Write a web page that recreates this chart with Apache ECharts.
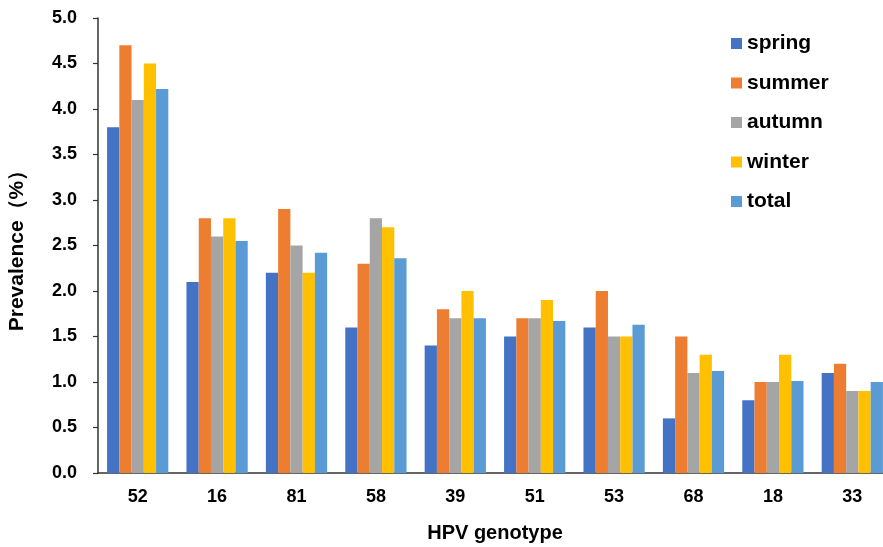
<!DOCTYPE html>
<html>
<head>
<meta charset="utf-8">
<script src="https://cdn.jsdelivr.net/npm/echarts@6/dist/echarts.min.js"></script>
<style>html,body{margin:0;padding:0;background:#fff}#c{width:883px;height:547px}</style>
</head>
<body>
<div id="c"></div>
<script>
const categories = ['52','16','81','58','39','51','53','68','18','33'];
const spring = [3.8, 2.1, 2.2, 1.6, 1.4, 1.5, 1.6, 0.6, 0.8, 1.1];
const summer = [4.7, 2.8, 2.9, 2.3, 1.8, 1.7, 2.0, 1.5, 1.0, 1.2];
const autumn = [4.1, 2.6, 2.5, 2.8, 1.7, 1.7, 1.5, 1.1, 1.0, 0.9];
const winter = [4.5, 2.8, 2.2, 2.7, 2.0, 1.9, 1.5, 1.3, 1.3, 0.9];
const total  = [4.22, 2.55, 2.42, 2.36, 1.70, 1.67, 1.63, 1.12, 1.01, 1.00];
const seriesNames = ['spring','summer','autumn','winter','total'];
const seriesData = [spring, summer, autumn, winter, total];
const colors = ['#4472C4','#ED7D31','#A5A5A5','#FFC000','#5B9BD5'];

const font = 'Liberation Sans, Arial, sans-serif';
const chart = echarts.init(document.getElementById('c'), null, {renderer:'canvas'});
chart.setOption({
  animation: false,
  color: colors,
  grid: {left: 98, top: 18, width: 794, height: 455, containLabel: false, outerBoundsMode: 'none'},
  legend: {
    orient: 'vertical', left: 731, top: 33, padding: 0,
    icon: 'rect', itemWidth: 11, itemHeight: 11, itemGap: 18.5,
    textStyle: {fontFamily: font, fontWeight: 'bold', fontSize: 21, color: '#000', lineHeight: 21},
    data: seriesNames
  },
  xAxis: {
    type: 'category', data: categories,
    name: 'HPV genotype', nameLocation: 'middle', nameGap: 50,
    nameTextStyle: {fontFamily: font, fontWeight: 'bold', fontSize: 20, color: '#000'},
    axisLine: {lineStyle: {color: '#333', width: 1.5}},
    axisTick: {show: false},
    axisLabel: {fontFamily: font, fontWeight: 'bold', fontSize: 18, color: '#000', margin: 15}
  },
  yAxis: {
    type: 'value', min: 0, max: 5, interval: 0.5,
    name: 'Prevalence（%）', nameLocation: 'middle', nameGap: 70,
    nameTextStyle: {fontFamily: font, fontWeight: 'bold', fontSize: 21, color: '#000'},
    axisLine: {show: true, lineStyle: {color: '#333', width: 1.5}},
    axisTick: {show: true, inside: false, length: 5, lineStyle: {color: '#333', width: 1.2}},
    splitLine: {show: false},
    axisLabel: {fontFamily: font, fontWeight: 'bold', fontSize: 18, color: '#000', margin: 21,
      formatter: v => v.toFixed(1)}
  },
  series: seriesNames.map((n, i) => ({
    name: n, type: 'bar', data: seriesData[i],
    barWidth: 12.25, barGap: '0%',
    itemStyle: {color: colors[i]}
  }))
});
</script>
</body>
</html>
